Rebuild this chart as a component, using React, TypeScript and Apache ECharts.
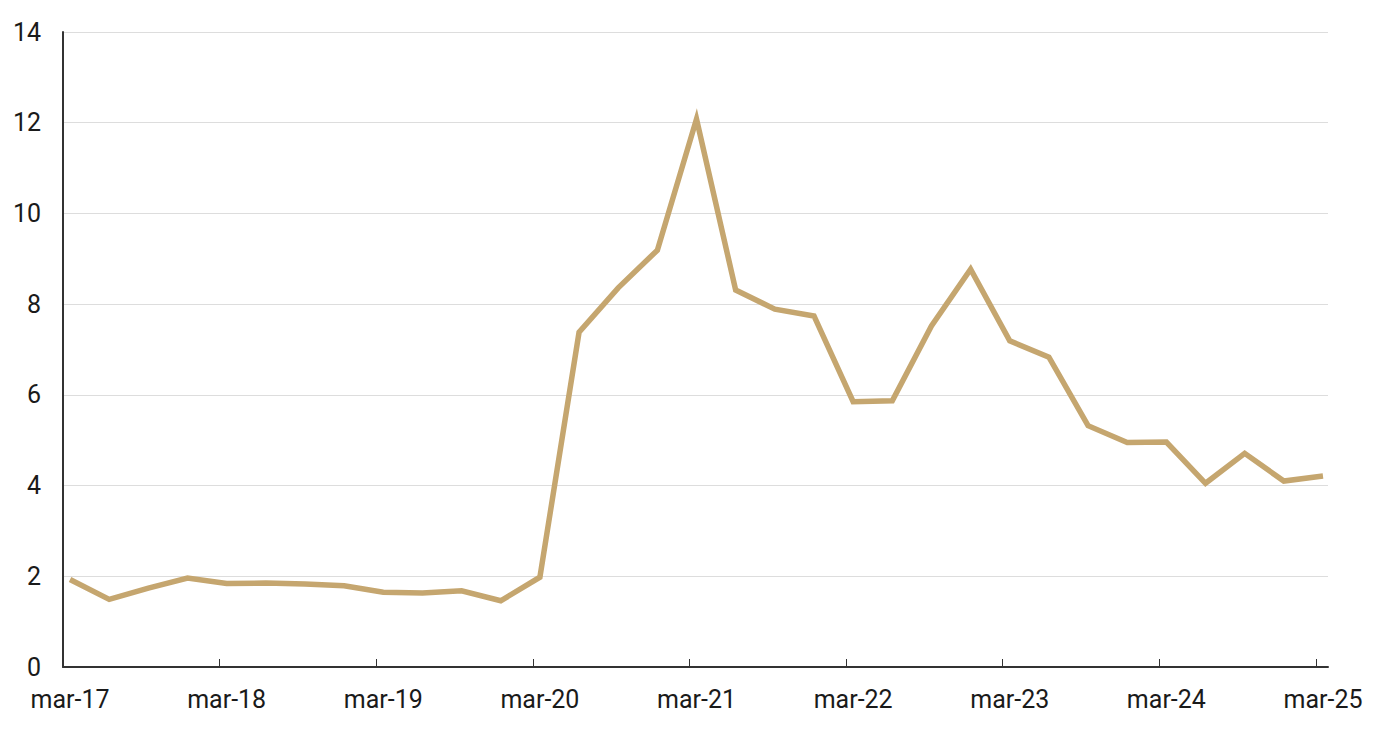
import React, { useEffect, useRef } from "react";
import * as echarts from "echarts";

const quarters: string[] = [
  "mar-17", "jun-17", "sep-17", "dec-17",
  "mar-18", "jun-18", "sep-18", "dec-18",
  "mar-19", "jun-19", "sep-19", "dec-19",
  "mar-20", "jun-20", "sep-20", "dec-20",
  "mar-21", "jun-21", "sep-21", "dec-21",
  "mar-22", "jun-22", "sep-22", "dec-22",
  "mar-23", "jun-23", "sep-23", "dec-23",
  "mar-24", "jun-24", "sep-24", "dec-24",
  "mar-25",
];

const values: number[] = [
  1.93, 1.49, 1.74, 1.96,
  1.84, 1.85, 1.83, 1.79,
  1.65, 1.63, 1.68, 1.46,
  1.98, 7.38, 8.36, 9.19,
  12.08, 8.31, 7.89, 7.74,
  5.85, 5.87, 7.52, 8.77,
  7.19, 6.83, 5.32, 4.95,
  4.96, 4.05, 4.71, 4.1,
  4.21,
];

const yTicks: number[] = [0, 2, 4, 6, 8, 10, 12, 14];

const labelIdx: number[] = quarters
  .map((q, i) => (q.startsWith("mar") ? i : -1))
  .filter((i) => i >= 0);

const TICK_SHIFT = 0.18;

export default function App() {
  const ref = useRef<HTMLDivElement>(null);
  useEffect(() => {
    if (!ref.current) return;
    const chart = echarts.init(ref.current, undefined, { renderer: "svg" });
    const font = "Roboto, 'Noto Sans', sans-serif";
    chart.setOption({
      animation: false,
      backgroundColor: "#ffffff",
      grid: { left: 63, right: 52, top: 32, bottom: 63, containLabel: false },
      xAxis: {
        type: "value",
        min: -TICK_SHIFT,
        max: quarters.length - 1 + 0.128,
        axisLine: { show: true, onZero: false, lineStyle: { color: "#333333", width: 2 } },
        axisTick: {
          show: true,
          inside: true,
          length: 8,
          lineStyle: { color: "#333333", width: 1 },
          customValues: labelIdx.slice(1).map((i) => i - TICK_SHIFT),
        },
        axisLabel: {
          show: true,
          customValues: labelIdx,
          formatter: (v: number) => quarters[Math.round(v)] ?? "",
          color: "#1a1a1a",
          fontSize: 25,
          fontFamily: font,
          margin: 20,
          showMinLabel: true,
          showMaxLabel: true,
        },
        splitLine: { show: false },
      },
      yAxis: {
        type: "value",
        min: yTicks[0],
        max: yTicks[yTicks.length - 1],
        interval: 2,
        axisLine: { show: true, onZero: false, lineStyle: { color: "#333333", width: 2 } },
        axisTick: { show: false },
        axisLabel: {
          color: "#1a1a1a",
          fontSize: 25,
          fontFamily: font,
          margin: 22,
        },
        splitLine: { show: true, lineStyle: { color: "#dddddd", width: 1 } },
      },
      series: [
        {
          type: "line",
          data: values.map((v, i) => [i, v]),
          symbol: "none",
          lineStyle: { color: "#C5A66F", width: 5.5, join: "miter" },
          itemStyle: { color: "#C5A66F" },
          z: 3,
        },
      ],
    });
    return () => chart.dispose();
  }, []);
  return (
    <div
      ref={ref}
      style={{ position: "fixed", left: 0, top: 0, width: 1380, height: 730 }}
    />
  );
}
